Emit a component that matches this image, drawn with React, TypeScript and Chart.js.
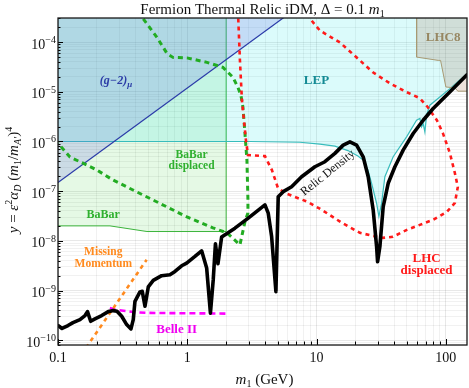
import React, { useEffect, useRef } from "react";
import { Chart, registerables } from "chart.js";

Chart.register(...registerables);

const SERIF = "'Liberation Serif', 'Times New Roman', serif";

// ---- axis ranges and ticks ----
const X_MIN = 0.1;
const X_MAX = 146;
const Y_MIN = 8e-11;
const Y_MAX = 3.06e-4;

const xTickValues = [0.1, 1, 10, 100];
const xTickLabels = ["0.1", "1", "10", "100"];
const yTickValues = [1e-10, 1e-9, 1e-8, 1e-7, 1e-6, 1e-5, 1e-4];
const yTickExponents = ["\u221210", "\u22129", "\u22128", "\u22127", "\u22126", "\u22125", "\u22124"];

// ---- Relic density (black) ----
const relicX = [0.1, 0.1074, 0.1195, 0.1306, 0.1479, 0.1618, 0.1691, 0.179, 0.1932, 0.2178, 0.2449, 0.2677, 0.286, 0.311, 0.3398, 0.3669, 0.3822, 0.3939, 0.4306, 0.4487, 0.4709, 0.4994, 0.5458, 0.6339, 0.7347, 0.8035, 0.9052, 0.9894, 1.147, 1.292, 1.413, 1.511, 1.589, 1.652, 1.728, 1.845, 2.338, 2.964, 3.99, 4.232, 4.495, 4.853, 5.056, 5.527, 6.418, 7.669, 9.719, 11.61, 13.88, 16.09, 18.13, 20.42, 22.97, 25.11, 27.45, 29.16, 29.69, 30.93, 32.81, 35.86, 40.41, 46.82, 55.97, 66.88, 79.9, 101.4, 146];
const relicY = [1.97e-10, 1.72e-10, 1.97e-10, 2.26e-10, 2.6e-10, 3.13e-10, 3.76e-10, 2.4e-10, 2.69e-10, 3.13e-10, 3.76e-10, 3.94e-10, 3.82e-10, 3.03e-10, 2.06e-10, 1.69e-10, 2.6e-10, 6.06e-10, 9.35e-10, 9.62e-10, 4.81e-10, 1.18e-9, 1.6e-9, 1.99e-9, 2.08e-9, 2.42e-9, 3.15e-9, 3.57e-9, 4.85e-9, 6.3e-9, 2.84e-9, 3.51e-10, 1.65e-9, 8.71e-9, 3.46e-9, 1.2e-8, 1.8e-8, 2.86e-8, 5.28e-8, 3.6e-8, 1.22e-8, 9.48e-10, 7.75e-8, 9.77e-8, 1.23e-7, 1.95e-7, 3.1e-7, 3.91e-7, 5.76e-7, 8.45e-7, 9.84e-7, 8.45e-7, 4.92e-7, 1.95e-7, 4.19e-8, 7.69e-9, 3.79e-9, 7.69e-9, 4.88e-8, 1.44e-7, 3.1e-7, 6.71e-7, 1.45e-6, 2.68e-6, 4.61e-6, 8.52e-6, 2.2e-5];

// ---- LEP exclusion boundary ----
const lepX = [0.1, 3.054, 7.44, 10.62, 13.88, 17.49, 20.9, 22.97, 24.97, 26.69, 29.16, 30.39, 31.88, 33.81, 39.2, 49.77, 59.46, 63.05, 65.0, 66.88, 68.94, 71.05, 75.34, 90.03, 107.6, 146];
const lepY = [1e-6, 1e-6, 9.64e-7, 8.85e-7, 8.07e-7, 6.56e-7, 5.08e-7, 4.23e-7, 2.66e-7, 1.44e-7, 5.71e-8, 3.08e-8, 5.71e-8, 1.95e-7, 4.92e-7, 1.24e-6, 2.68e-6, 2.9e-6, 1.97e-6, 2.3e-6, 1.56e-6, 3.38e-6, 5.37e-6, 7.87e-6, 1.16e-5, 2.32e-5];

// ---- BaBar exclusion boundary ----
const babarX = [0.1, 0.2525, 0.4879, 2.0, 2.0];
const babarY = [2.0e-8, 2.0e-8, 1.54e-8, 1.54e-8, 1e-3];

// ---- (g-2)_mu boundary ----
const gm2X = [0.1, 10];
const gm2Y = [1.5e-7, 9.46e-4];

// ---- LHC8 boundary ----
const lhc8X = [59.46, 59.46, 87.33, 91.16, 100.2, 117.6, 124.0, 146];
const lhc8Y = [1e-3, 5.0e-5, 4.29e-5, 4.29e-5, 1.25e-5, 1.2e-5, 1.03e-5, 1.03e-5];

// ---- LHC displaced (red dashed contour) ----
const lhcDispX = [2.466, 2.556, 2.649, 2.844, 2.948, 3.99, 4.52, 5.029, 5.696, 6.808, 8.58, 11.01, 15.72, 21.66, 27.3, 32.62, 38.98, 50.03, 63.05, 79.47, 101.97, 117.6, 124.0, 117.6, 107.6, 95.0, 85.36, 72.7, 63.05, 50.03, 36.96, 27.3, 21.66, 15.17, 10.62, 8.89, 8.136];
const lhcDispY = [4.32e-4, 4.29e-5, 6.76e-6, 1.065e-6, 5.32e-7, 5.08e-7, 2.66e-7, 1.159e-7, 9.2e-8, 7.64e-8, 6.07e-8, 4.19e-8, 2.3e-8, 1.449e-8, 1.261e-8, 1.15e-8, 1.204e-8, 1.663e-8, 2.097e-8, 2.64e-8, 3.82e-8, 5.79e-8, 1.214e-7, 2.317e-7, 5.84e-7, 1.472e-6, 2.684e-6, 4.89e-6, 7.42e-6, 9.79e-6, 1.483e-5, 2.466e-5, 4.29e-5, 9.86e-5, 1.71e-4, 2.99e-4, 4.32e-4];

// ---- BaBar displaced (green dashed contour) ----
const babarDispX = [0.4306, 0.4543, 0.5831, 0.6966, 0.775, 0.9947, 1.42, 1.888, 2.257, 2.466, 2.602, 2.697, 2.795, 2.895, 2.948, 2.948, 2.795, 2.556, 2.028, 1.58, 0.9947, 0.6966, 0.543, 0.3802, 0.2663, 0.2002, 0.1676, 0.1238, 0.1];
const babarDispY = [4.32e-4, 2.99e-4, 1.243e-4, 5.93e-5, 4.93e-5, 4.82e-5, 3.91e-5, 3.107e-5, 1.957e-5, 1.233e-5, 8.52e-6, 4.89e-6, 1.472e-6, 4.23e-7, 6.65e-8, 3.65e-8, 2.408e-8, 8.32e-9, 1.449e-8, 1.825e-8, 3.034e-8, 4.816e-8, 6.65e-8, 1.056e-7, 1.677e-7, 2.66e-7, 3.354e-7, 4.85e-7, 9.27e-7];

// ---- Missing momentum (orange dashed) ----
const missMomX = [0.165, 0.485];
const missMomY = [7.06e-11, 4.16e-9];

// ---- Belle II (magenta dashed) ----
const belleX = [0.252, 0.276, 0.394, 0.4994, 2.02];
const belleY = [4.47e-10, 4.13e-10, 3.64e-10, 3.54e-10, 3.43e-10];

type Pt = { x: number; y: number };
const zip = (xs: number[], ys: number[]): Pt[] => xs.map((x, i) => ({ x, y: ys[i] }));

function logTicks(min: number, max: number): number[] {
  const out: number[] = [];
  for (let e = Math.floor(Math.log10(min)); e <= Math.ceil(Math.log10(max)); e++) {
    for (let m = 1; m <= 9; m++) {
      const v = m * Math.pow(10, e);
      if (v >= min * 0.9999 && v <= max * 1.0001) out.push(v);
    }
  }
  return out;
}
const xAllTicks = logTicks(X_MIN, X_MAX);
const yAllTicks = logTicks(Y_MIN, Y_MAX);
const isDecade = (v: number) => Math.abs(Math.log10(v) - Math.round(Math.log10(v))) < 1e-6;

type Seg = { t: string; f: string; dy?: number };
function segsWidth(ctx: CanvasRenderingContext2D, segs: Seg[]) {
  let w = 0;
  for (const s of segs) {
    ctx.font = s.f;
    w += ctx.measureText(s.t).width;
  }
  return w;
}
function drawSegs(ctx: CanvasRenderingContext2D, segs: Seg[], x: number, y: number, align: "left" | "center" | "right") {
  const w = segsWidth(ctx, segs);
  let cx = align === "center" ? x - w / 2 : align === "right" ? x - w : x;
  ctx.textAlign = "left";
  ctx.textBaseline = "alphabetic";
  for (const s of segs) {
    ctx.font = s.f;
    ctx.fillText(s.t, cx, y + (s.dy || 0));
    cx += ctx.measureText(s.t).width;
  }
}

const f = (size: number, style = "") => `${style} ${size}px ${SERIF}`.trim();

type Label = { lines: string[]; x: number; y: number; color: string; size: number; gap: number };
const regionLabels: Label[] = [
  { lines: ["LEP"], x: 10.0, y: 1.7e-5, color: "#138a94", size: 13, gap: 0 },
  { lines: ["LHC8"], x: 95.5, y: 1.26e-4, color: "#978762", size: 13, gap: 0 },
  { lines: ["BaBar", "displaced"], x: 1.08, y: 4.2e-7, color: "#2fb02f", size: 11.5, gap: 11 },
  { lines: ["BaBar"], x: 0.224, y: 3.33e-8, color: "#2fb02f", size: 12, gap: 0 },
  { lines: ["Missing", "Momentum"], x: 0.224, y: 4.5e-9, color: "#ff8a1e", size: 11.5, gap: 11.5 },
  { lines: ["Belle II"], x: 0.828, y: 1.64e-10, color: "#f000f0", size: 13, gap: 0 },
  { lines: ["LHC", "displaced"], x: 71.05, y: 3.33e-9, color: "#ff1a1a", size: 13, gap: 12 },
];

const overlayPlugin = {
  id: "overlay",
  beforeDraw(chart: any) {
    const { ctx, width, height } = chart;
    ctx.save();
    ctx.fillStyle = "#ffffff";
    ctx.fillRect(0, 0, width, height);
    ctx.restore();
  },
  afterDatasetsDraw(chart: any) {
    const { ctx, chartArea: ca } = chart;
    const xs = chart.scales.x;
    const ys = chart.scales.y;
    ctx.save();

    // region labels
    for (const L of regionLabels) {
      const px = xs.getPixelForValue(L.x);
      const py = ys.getPixelForValue(L.y);
      ctx.fillStyle = L.color;
      ctx.font = f(L.size, "bold");
      ctx.textAlign = "center";
      ctx.textBaseline = "middle";
      const n = L.lines.length;
      L.lines.forEach((t, i) => {
        ctx.fillText(t, px, py + (i - (n - 1) / 2) * L.gap);
      });
    }

    // (g-2)_mu label
    {
      const px = xs.getPixelForValue(0.281);
      const py = ys.getPixelForValue(1.7e-5);
      ctx.fillStyle = "#2b3ca6";
      drawSegs(
        ctx,
        [
          { t: "(g\u22122)", f: f(12, "italic bold") },
          { t: "\u03bc", f: f(9, "italic bold"), dy: 3 },
        ],
        px,
        py + 4,
        "center"
      );
    }

    // Relic Density label (rotated)
    {
      const px = xs.getPixelForValue(12.25);
      const py = ys.getPixelForValue(2.32e-7);
      ctx.save();
      ctx.translate(px, py);
      ctx.rotate((-39 * Math.PI) / 180);
      ctx.fillStyle = "#111";
      ctx.font = f(12);
      ctx.textAlign = "center";
      ctx.textBaseline = "middle";
      ctx.fillText("Relic Density", 0, 0);
      ctx.restore();
    }

    // tick marks (inside)
    ctx.strokeStyle = "#000";
    ctx.lineWidth = 1;
    for (const v of xAllTicks) {
      const px = Math.round(xs.getPixelForValue(v)) + 0.5;
      const len = isDecade(v) ? 6 : 3.5;
      ctx.beginPath();
      ctx.moveTo(px, ca.bottom);
      ctx.lineTo(px, ca.bottom - len);
      ctx.stroke();
    }
    for (const v of yAllTicks) {
      const py = Math.round(ys.getPixelForValue(v)) + 0.5;
      const len = isDecade(v) ? 5 : 2.5;
      ctx.beginPath();
      ctx.moveTo(ca.left, py);
      ctx.lineTo(ca.left + len, py);
      ctx.stroke();
    }

    // frame
    ctx.lineWidth = 1.3;
    ctx.strokeStyle = "#1a1a1a";
    ctx.strokeRect(ca.left, ca.top, ca.right - ca.left, ca.bottom - ca.top);

    // tick labels
    ctx.fillStyle = "#111";
    xTickValues.forEach((v, i) => {
      const px = xs.getPixelForValue(v);
      ctx.font = f(14);
      ctx.textAlign = "center";
      ctx.textBaseline = "alphabetic";
      ctx.fillText(xTickLabels[i], px, ca.bottom + 17);
    });
    yTickValues.forEach((v, i) => {
      const py = ys.getPixelForValue(v);
      drawSegs(
        ctx,
        [
          { t: "10", f: f(14) },
          { t: yTickExponents[i], f: f(10), dy: -5.5 },
        ],
        ca.left - 2,
        py + 6.5,
        "right"
      );
    });

    // title
    const cx = (ca.left + ca.right) / 2;
    drawSegs(
      ctx,
      [
        { t: "Fermion Thermal Relic iDM, \u0394 = 0.1 ", f: f(15) },
        { t: "m", f: f(15, "italic") },
        { t: "1", f: f(10), dy: 3 },
      ],
      cx,
      14,
      "center"
    );

    // x axis title
    drawSegs(
      ctx,
      [
        { t: "m", f: f(15, "italic") },
        { t: "1", f: f(10), dy: 3 },
        { t: " (GeV)", f: f(15) },
      ],
      cx + 2,
      384,
      "center"
    );

    // y axis title
    ctx.save();
    ctx.translate(18, 180);
    ctx.rotate(-Math.PI / 2);
    drawSegs(
      ctx,
      [
        { t: "y", f: f(15, "italic") },
        { t: " = ", f: f(15) },
        { t: "\u03b5", f: f(15, "italic") },
        { t: "2", f: f(10), dy: -6 },
        { t: "\u03b1", f: f(15, "italic") },
        { t: "D", f: f(10, "italic"), dy: 3 },
        { t: " (", f: f(15) },
        { t: "m", f: f(15, "italic") },
        { t: "1", f: f(10), dy: 3 },
        { t: "/", f: f(15) },
        { t: "m", f: f(15, "italic") },
        { t: "A\u2032", f: f(10, "italic"), dy: 3 },
        { t: ")", f: f(15) },
        { t: "4", f: f(10), dy: -6 },
      ],
      0,
      0,
      "center"
    );
    ctx.restore();

    ctx.restore();
  },
};

const ds = (label: string, xs: number[], ys: number[], opts: any) => ({
  label,
  data: zip(xs, ys),
  pointRadius: 0,
  pointHoverRadius: 0,
  tension: 0,
  fill: false,
  ...opts,
});

export default function App() {
  const ref = useRef<HTMLCanvasElement>(null);
  useEffect(() => {
    const canvas = ref.current;
    if (!canvas) return;
    const chart = new Chart(canvas, {
      type: "line",
      data: {
        datasets: [
          ds("Relic Density", relicX, relicY, { borderColor: "#000", borderWidth: 3.6, borderJoinStyle: "round", borderCapStyle: "round", order: 0 }),
          ds("LHC displaced", lhcDispX, lhcDispY, { borderColor: "#ff1a1a", borderWidth: 2.6, borderDash: [4, 4], order: 1 }),
          ds("BaBar displaced", babarDispX, babarDispY, { borderColor: "#22ac22", borderWidth: 3, borderDash: [5, 4], order: 2 }),
          ds("Missing Momentum", missMomX, missMomY, { borderColor: "#ff8a1e", borderWidth: 2.6, borderDash: [4, 4], order: 3 }),
          ds("Belle II", belleX, belleY, { borderColor: "#ff00ff", borderWidth: 2.6, borderDash: [6, 4], order: 4 }),
          ds("LHC8", lhc8X, lhc8Y, { borderColor: "#a89a74", borderWidth: 1, fill: "end", backgroundColor: "rgba(170,120,90,0.22)", order: 5 }),
          ds("(g-2)", gm2X, gm2Y, { borderColor: "#2a3aa8", borderWidth: 1.2, fill: "end", backgroundColor: "rgba(99,102,232,0.2)", order: 6 }),
          ds("LEP", lepX, lepY, { borderColor: "#38bcbc", borderWidth: 1.2, fill: "end", backgroundColor: "rgba(0,230,230,0.14)", order: 7 }),
          ds("BaBar", babarX, babarY, { borderColor: "#3cb43c", borderWidth: 1, fill: "end", backgroundColor: "rgba(0,200,0,0.1)", order: 8 }),
        ],
      },
      options: {
        animation: false,
        responsive: false,
        maintainAspectRatio: false,
        devicePixelRatio: 1,
        events: [],
        layout: { padding: { left: 0, top: 18, right: 2, bottom: 0 } },
        plugins: {
          legend: { display: false },
          tooltip: { enabled: false },
          title: { display: false },
        },
        scales: {
          x: {
            type: "logarithmic",
            min: X_MIN,
            max: X_MAX,
            afterBuildTicks: (s: any) => {
              s.ticks = xAllTicks.map((v) => ({ value: v, major: false }));
            },
            afterFit: (s: any) => {
              s.height = 43;
            },
            ticks: { display: false, autoSkip: false },
            border: { display: false },
            grid: {
              drawTicks: false,
              tickLength: 0,
              lineWidth: 1,
              color: (c: any) => (c.tick && isDecade(c.tick.value) ? "rgba(0,0,0,0.09)" : "rgba(0,0,0,0.055)"),
            },
          },
          y: {
            type: "logarithmic",
            min: Y_MIN,
            max: Y_MAX,
            afterBuildTicks: (s: any) => {
              s.ticks = yAllTicks.map((v) => ({ value: v, major: false }));
            },
            afterFit: (s: any) => {
              s.width = 58;
            },
            ticks: { display: false, autoSkip: false },
            border: { display: false },
            grid: {
              drawTicks: false,
              tickLength: 0,
              lineWidth: 1,
              color: (c: any) => (c.tick && isDecade(c.tick.value) ? "rgba(0,0,0,0.09)" : "rgba(0,0,0,0.055)"),
            },
          },
        },
      } as any,
      plugins: [overlayPlugin],
    });
    return () => chart.destroy();
  }, []);

  return (
    <div style={{ position: "fixed", left: 0, top: 0, width: 469, height: 388, background: "#fff" }}>
      <canvas ref={ref} width={469} height={388} style={{ width: 469, height: 388, display: "block" }} />
    </div>
  );
}
